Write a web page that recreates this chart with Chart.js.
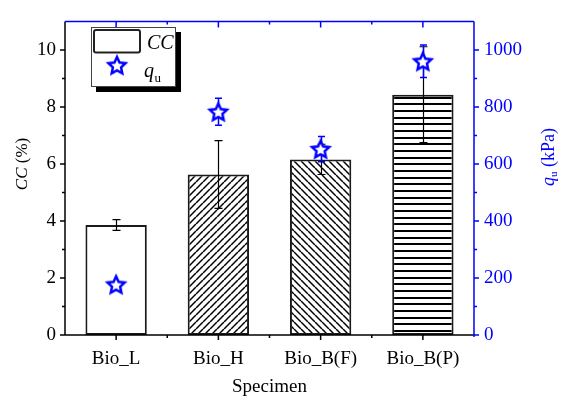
<!DOCTYPE html>
<html>
<head>
<meta charset="utf-8">
<script src="https://cdn.jsdelivr.net/npm/chart.js@4/dist/chart.umd.min.js"></script>
<style>
html,body{margin:0;padding:0;background:#fff;}
#wrap{width:561px;height:403px;}
</style>
</head>
<body>
<div id="wrap"><canvas id="c" width="561" height="403"></canvas></div>
<script>
// ---- data ----
const categories = ['Bio_L', 'Bio_H', 'Bio_B(F)', 'Bio_B(P)'];
const ccValues = [3.86, 5.63, 6.16, 8.43];
const ccErrors = [0.19, 1.19, 0.53, 1.68];
const quValues = [177, 783, 652, 960];
const quErrors = [8, 47, 44, 57];

const BLUE = '#0000ff';
const SERIF = "'Liberation Serif', 'Times New Roman', serif";

// ---- patterns ----
function makeDiag(forward) {
  const s = 7;
  const c = document.createElement('canvas');
  c.width = s; c.height = s;
  const g = c.getContext('2d');
  g.fillStyle = '#fff'; g.fillRect(0, 0, s, s);
  g.strokeStyle = '#000'; g.lineWidth = 1.5;
  for (let k = -1; k <= 1; k++) {
    g.beginPath();
    if (forward) { g.moveTo(k * s, s); g.lineTo(k * s + s, 0); }
    else { g.moveTo(k * s, 0); g.lineTo(k * s + s, s); }
    g.stroke();
  }
  return document.getElementById('c').getContext('2d').createPattern(c, 'repeat');
}
function makeHoriz() {
  const c = document.createElement('canvas');
  c.width = 4; c.height = 20;
  const g = c.getContext('2d');
  g.fillStyle = '#fff'; g.fillRect(0, 0, 4, 20);
  g.fillStyle = '#000';
  [3, 10, 17].forEach(y => g.fillRect(0, y, 4, 2));
  return document.getElementById('c').getContext('2d').createPattern(c, 'repeat');
}
const barFills = ['#ffffff', makeDiag(true), makeDiag(false), makeHoriz()];

// ---- star marker ----
function starPath(g, cx, cy, R, r) {
  g.beginPath();
  for (let k = 0; k < 10; k++) {
    const a = -Math.PI / 2 + k * Math.PI / 5;
    const rr = k % 2 === 0 ? R : r;
    const x = cx + rr * Math.cos(a), y = cy + rr * Math.sin(a);
    if (k === 0) g.moveTo(x, y); else g.lineTo(x, y);
  }
  g.closePath();
}
const starImg = (function () {
  const c = document.createElement('canvas');
  c.width = 24; c.height = 24;
  const g = c.getContext('2d');
  starPath(g, 12, 12.8, 9, 4.3);
  g.fillStyle = '#fff'; g.fill();
  g.strokeStyle = BLUE; g.lineWidth = 2.5; g.lineJoin = 'miter';
  g.stroke();
  return c;
})();

// ---- custom drawing plugin ----
function errBar(ctx, x, yTop, yBot, half, color, lw) {
  ctx.save();
  ctx.strokeStyle = color; ctx.lineWidth = lw;
  ctx.beginPath();
  ctx.moveTo(x, yTop); ctx.lineTo(x, yBot);
  ctx.moveTo(x - half, yTop); ctx.lineTo(x + half, yTop);
  ctx.moveTo(x - half, yBot); ctx.lineTo(x + half, yBot);
  ctx.stroke();
  ctx.restore();
}

const customPlugin = {
  id: 'custom',
  afterDatasetDraw(chart, args) {
    const ctx = chart.ctx;
    if (args.index === 0) {
      const meta = chart.getDatasetMeta(0), ys = chart.scales.y;
      ccValues.forEach((v, i) => {
        errBar(ctx, Math.round(meta.data[i].x) + 0.5,
          ys.getPixelForValue(v + ccErrors[i]), ys.getPixelForValue(v - ccErrors[i]), 4, '#000', 1.2);
      });
    }
  },
  beforeDatasetDraw(chart, args) {
    const ctx = chart.ctx;
    if (args.index === 1) {
      const meta = chart.getDatasetMeta(1), ys = chart.scales.y1;
      quValues.forEach((v, i) => {
        errBar(ctx, Math.round(meta.data[i].x) + 0.5,
          ys.getPixelForValue(v + quErrors[i]), ys.getPixelForValue(v - quErrors[i]), 3.5, BLUE, 1.5);
      });
    }
  },
  afterDraw(chart) {
    const ctx = chart.ctx;
    const a = chart.chartArea;
    const xs = chart.scales.x, ys = chart.scales.y, y1 = chart.scales.y1;
    ctx.save();
    ctx.lineWidth = 1.5;
    // left axis
    ctx.strokeStyle = '#000';
    ctx.beginPath();
    ctx.moveTo(a.left, a.top); ctx.lineTo(a.left, a.bottom);
    for (let v = 0; v <= 10; v++) {
      const y = ys.getPixelForValue(v);
      const len = v % 2 === 0 ? 5 : 3;
      ctx.moveTo(a.left, y); ctx.lineTo(a.left - len, y);
    }
    ctx.stroke();
    // bottom axis
    ctx.beginPath();
    ctx.moveTo(a.left, a.bottom); ctx.lineTo(a.right, a.bottom);
    const step = (a.right - a.left) / categories.length;
    for (let i = 0; i < categories.length; i++) {
      const x = xs.getPixelForValue(i);
      ctx.moveTo(x, a.bottom); ctx.lineTo(x, a.bottom + 5);
      if (i > 0) { const xb = x - step / 2; ctx.moveTo(xb, a.bottom); ctx.lineTo(xb, a.bottom + 3); }
    }
    ctx.stroke();
    // top axis (blue, inward)
    ctx.strokeStyle = BLUE;
    ctx.beginPath();
    ctx.moveTo(a.left, a.top); ctx.lineTo(a.right, a.top);
    for (let i = 0; i < categories.length; i++) {
      const x = xs.getPixelForValue(i);
      ctx.moveTo(x, a.top); ctx.lineTo(x, a.top + 6);
      if (i > 0) { const xb = x - step / 2; ctx.moveTo(xb, a.top); ctx.lineTo(xb, a.top + 3); }
    }
    ctx.stroke();
    // right axis
    ctx.beginPath();
    ctx.moveTo(a.right, a.top); ctx.lineTo(a.right, a.bottom + 2);
    for (let v = 0; v <= 1000; v += 100) {
      const y = y1.getPixelForValue(v);
      const len = v % 200 === 0 ? 5 : 3;
      ctx.moveTo(a.right, y); ctx.lineTo(a.right + len, y);
    }
    ctx.stroke();

    // axis titles
    ctx.textBaseline = 'alphabetic';
    ctx.textAlign = 'left';
    // left title
    ctx.save();
    ctx.translate(27, 164);
    ctx.rotate(-Math.PI / 2);
    ctx.fillStyle = '#000';
    ctx.font = 'italic 17px ' + SERIF;
    const wCC = ctx.measureText('CC').width;
    ctx.font = '17px ' + SERIF;
    const wP = ctx.measureText(' (%)').width;
    let sx = -(wCC + wP) / 2;
    ctx.font = 'italic 17px ' + SERIF; ctx.fillText('CC', sx, 0);
    ctx.font = '17px ' + SERIF; ctx.fillText(' (%)', sx + wCC, 0);
    ctx.restore();
    // right title
    ctx.save();
    ctx.translate(554, 157);
    ctx.rotate(-Math.PI / 2);
    ctx.fillStyle = BLUE;
    ctx.font = 'italic 18px ' + SERIF;
    const wq = ctx.measureText('q').width;
    ctx.font = '11px ' + SERIF;
    const wu = ctx.measureText('u').width;
    ctx.font = '18px ' + SERIF;
    const wk = ctx.measureText(' (kPa)').width;
    sx = -(wq + wu + wk) / 2;
    ctx.font = 'italic 18px ' + SERIF; ctx.fillText('q', sx, 0);
    ctx.font = '11px ' + SERIF; ctx.fillText('u', sx + wq, 3);
    ctx.font = '18px ' + SERIF; ctx.fillText(' (kPa)', sx + wq + wu, 0);
    ctx.restore();
    // x title
    ctx.fillStyle = '#000';
    ctx.font = '19px ' + SERIF;
    ctx.textAlign = 'center';
    ctx.fillText('Specimen', (a.left + a.right) / 2, 392);

    // legend
    ctx.fillStyle = '#000';
    ctx.fillRect(96, 32, 85, 60);
    ctx.fillStyle = '#fff';
    ctx.fillRect(91, 27, 85, 60);
    ctx.strokeStyle = '#444'; ctx.lineWidth = 1;
    ctx.strokeRect(91.5, 27.5, 84, 59);
    ctx.strokeStyle = '#222'; ctx.lineWidth = 2;
    ctx.beginPath();
    if (ctx.roundRect) ctx.roundRect(94, 30, 46, 22.5, 2); else ctx.rect(94, 30, 46, 22.5);
    ctx.stroke();
    ctx.fillStyle = '#000';
    ctx.textAlign = 'left';
    ctx.font = 'italic 20px ' + SERIF;
    ctx.fillText('CC', 147, 49);
    ctx.drawImage(starImg, 117 - 12, 66 - 12.8);
    ctx.font = 'italic 20px ' + SERIF;
    ctx.fillText('q', 144, 77);
    const wq2 = ctx.measureText('q').width;
    ctx.font = '13px ' + SERIF;
    ctx.fillText('u', 144 + wq2 + 0.5, 82);
    ctx.restore();
  }
};

new Chart(document.getElementById('c'), {
  type: 'bar',
  data: {
    labels: categories,
    datasets: [
      {
        type: 'bar',
        label: 'CC',
        data: ccValues,
        yAxisID: 'y',
        backgroundColor: barFills,
        borderColor: '#1a1a1a',
        borderWidth: 2,
        borderSkipped: false,
        barPercentage: 0.6,
        categoryPercentage: 1.0,
        order: 1
      },
      {
        type: 'line',
        label: 'qu',
        data: quValues,
        yAxisID: 'y1',
        showLine: false,
        pointStyle: starImg,
        pointRadius: 9,
        order: 0
      }
    ]
  },
  options: {
    responsive: false,
    animation: false,
    layout: { padding: { top: 5, left: 0, right: 0, bottom: 0 } },
    plugins: { legend: { display: false }, tooltip: { enabled: false } },
    scales: {
      x: {
        type: 'category',
        offset: true,
        grid: { display: false, drawTicks: false },
        border: { display: false },
        ticks: { color: '#000', font: { family: SERIF, size: 19 }, padding: 13, maxRotation: 0, autoSkip: false },
        afterFit(s) { s.height = 68; }
      },
      y: {
        position: 'left',
        min: 0, max: 11,
        grid: { display: false, drawTicks: false },
        border: { display: false },
        ticks: { stepSize: 2, includeBounds: false, color: '#000', font: { family: SERIF, size: 19 }, padding: 9,
                 callback: v => String(v) },
        afterFit(s) { s.width = 65; }
      },
      y1: {
        position: 'right',
        min: 0, max: 1100,
        grid: { display: false, drawTicks: false },
        border: { display: false },
        ticks: { stepSize: 200, includeBounds: false, color: BLUE, font: { family: SERIF, size: 19 }, padding: 10,
                 callback: v => String(v) },
        afterFit(s) { s.width = 87; }
      }
    }
  },
  plugins: [customPlugin]
});
</script>
</body>
</html>
